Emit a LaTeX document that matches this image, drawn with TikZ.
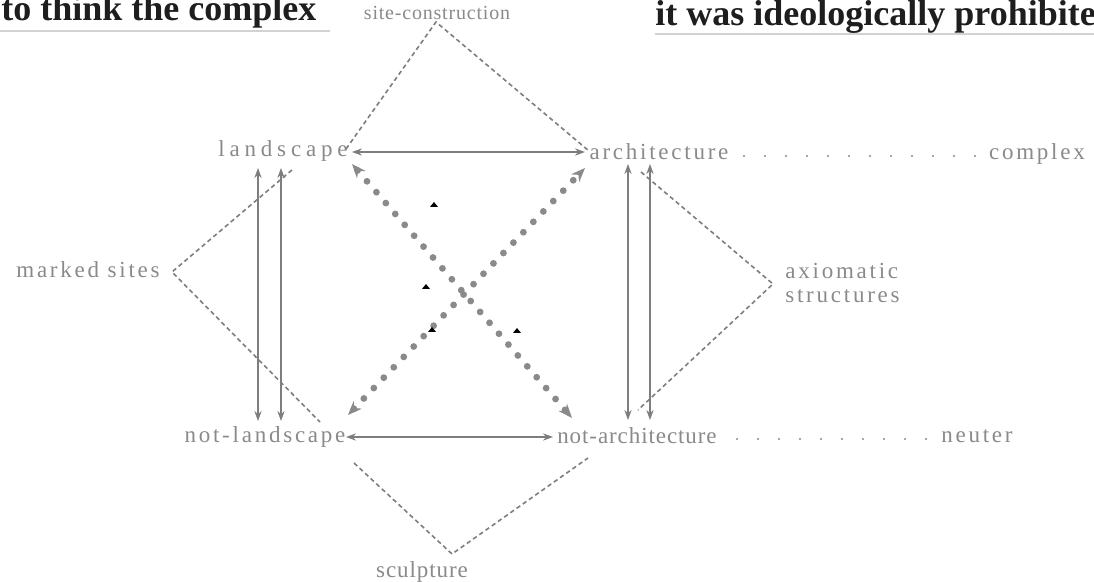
\documentclass[tikz,border=0pt]{standalone}
\usepackage{fontspec}
\setmainfont{Liberation Serif}
\newfontfamily\labelfont[LetterSpace=12]{Liberation Serif}
\newfontfamily\tightfont[LetterSpace=4]{Liberation Serif}
\newfontfamily\widefont[LetterSpace=21]{Liberation Serif}
\usetikzlibrary{arrows.meta, shapes.geometric}

\definecolor{inkgray}{HTML}{8A8A8A}
\definecolor{linegray}{HTML}{7E7E7E}
\definecolor{headink}{HTML}{1E1E1E}
\definecolor{rulegray}{HTML}{D2D2D2}

\begin{document}
\begin{tikzpicture}[
    x=0.5pt, y=-0.5pt,
    term/.style={inner sep=0pt, text=inkgray, font=\labelfont\fontsize{11.5}{13}\selectfont, anchor=base},
    termtight/.style={term, font=\tightfont\fontsize{11.5}{13}\selectfont},
    termwide/.style={term, font=\widefont\fontsize{11.5}{13}\selectfont},
    headline/.style={inner sep=0pt, text=headink, font=\fontsize{18}{20}\selectfont\bfseries, anchor=base west},
    rel/.style={draw=linegray, line width=0.55pt, {Stealth[length=5pt,width=3.6pt]}-{Stealth[length=5pt,width=3.6pt]}},
    hint/.style={draw=linegray, line width=0.8pt, dash pattern=on 2.2pt off 1.6pt},
    contra/.style={draw=inkgray, line width=3.4pt, line cap=round, dash pattern=on 0pt off 7.2pt,
                   {Stealth[length=7pt,width=5.5pt]}-{Stealth[length=7pt,width=5.5pt]}},
    leader/.style={draw=inkgray, line width=1.2pt, line cap=round, dash pattern=on 0pt off 10.5pt},
    speck/.style={fill=black, inner sep=0pt, isosceles triangle, shape border rotate=90,
                  minimum width=4pt, minimum height=2.4pt, isosceles triangle stretches}
]
\fill[white] (0,0) rectangle (1094,582);
\useasboundingbox (0,0) rectangle (1094,582);

% --- Zeilen aus dem Fliesstext ---
\node[headline] (lead) at (1,21) {to think the complex};
\node[headline] (tail) at (655,26) {it was ideologically prohibited};
\draw[rulegray, line width=1pt] (0,31) -- (330,31);
\draw[rulegray, line width=1pt] (655,34) -- (1094,34);

% --- Begriffe ---
\node[termtight, font=\tightfont\fontsize{10}{12}\selectfont] (site) at (437,20) {site-construction};
\node[termwide] (land) at (283,157) {landscape};
\node[term] (arch) at (659,160) {architecture};
\node[term] (cplx) at (1037,160) {complex};
\node[term] (marked) at (88,278) {marked sites};
\node[term, anchor=west, align=left] (axiom) at (785,283) {axiomatic\\[-1pt]structures};
\node[term] (nland) at (265,443) {not-landscape};
\node[termtight] (narch) at (637,444) {not-architecture};
\node[term] (neut) at (977,443) {neuter};
\node[termtight] (sculpt) at (422,578) {sculpture};

% Ecken und Enden der Verbindungen
\coordinate (siteTip) at (436,22);
\coordinate (markedTip) at (172,272);
\coordinate (axiomTip) at (773,284);
\coordinate (sculptTip) at (452,554);
\coordinate (landR) at (352,152);
\coordinate (archL) at (585,152);
\coordinate (nlandR) at (346,437);
\coordinate (narchL) at (553,437);
\coordinate (landLow) at (292,170);
\coordinate (nlandUp) at (320,422);
\coordinate (archLow) at (641,172);
\coordinate (narchUp) at (638,410);
\coordinate (nlandLow) at (354,463);
\coordinate (narchLow) at (588,458);
\coordinate (landDiag) at (352,164);
\coordinate (narchDiag) at (572,418);
\coordinate (nlandDiag) at (348,415);
\coordinate (archDiag) at (585,168);

% --- Gegensaetze ---
\draw[rel] (landR) -- (archL);
\draw[rel] (nlandR) -- (narchL);
\foreach \xx in {258, 281} {
    \draw[rel] (\xx,168) -- (\xx,421);
}
\foreach \xx in {628, 650} {
    \draw[rel] (\xx,164) -- (\xx,420);
}

% Widersprueche (Diagonalen)
\draw[contra] (landDiag) -- (narchDiag);
\draw[contra] (nlandDiag) -- (archDiag);

% --- erweitertes Feld ---
\draw[hint] (346,149) -- (siteTip) -- (589,151);
\draw[hint] (landLow) -- (markedTip) -- (nlandUp);
\draw[hint] (archLow) -- (axiomTip) -- (narchUp);
\draw[hint] (nlandLow) -- (sculptTip) -- (narchLow);

% Punktlinien
\draw[leader] (744,156) -- (980,156);
\draw[leader] (737,439) -- (928,439);

% Druckflecken
\node[speck] (s1) at (434,205) {};
\node[speck] (s2) at (426,287) {};
\node[speck] (s3) at (432,330) {};
\node[speck] (s4) at (517,331) {};
\end{tikzpicture}
\end{document}
